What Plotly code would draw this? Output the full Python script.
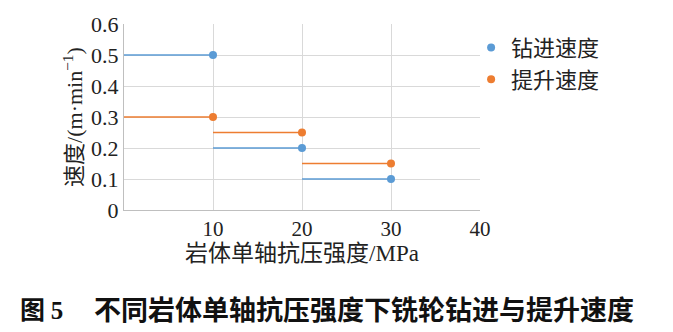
import plotly.graph_objects as go

strength = [10, 20, 30]
seg_start = [0, 10, 20]
drill_speed = [0.5, 0.2, 0.1]
lift_speed = [0.3, 0.25, 0.15]
x_ticks = [10, 20, 30, 40]
y_ticks = [0, 0.1, 0.2, 0.3, 0.4, 0.5, 0.6]

BLUE = "#5B9BD5"
ORANGE = "#ED7D31"
FONT = "Liberation Serif, Noto Sans CJK SC, serif"

def segs(starts, ends, vals):
    xs, ys = [], []
    for a, b, v in zip(starts, ends, vals):
        xs += [a, b, None]
        ys += [v, v, None]
    return xs, ys

fig = go.Figure()
for name, vals, col in [("钻进速度", drill_speed, BLUE), ("提升速度", lift_speed, ORANGE)]:
    xs, ys = segs(seg_start, strength, vals)
    fig.add_trace(go.Scatter(x=xs, y=ys, mode="lines", line=dict(color=col, width=1.5),
                             showlegend=False, hoverinfo="skip"))
    fig.add_trace(go.Scatter(x=strength, y=vals, mode="markers", name=name,
                             marker=dict(color=col, size=8)))

fig.update_layout(
    width=673, height=332,
    margin=dict(l=124, r=193, t=24, b=122),
    paper_bgcolor="white", plot_bgcolor="white",
    font=dict(family=FONT, size=22, color="#222"),
    legend=dict(x=0.975, y=0.985, xanchor="left", yanchor="top",
                font=dict(size=22, family="Noto Sans CJK SC"), itemwidth=30,
                tracegroupgap=0, bgcolor="rgba(0,0,0,0)"),
    xaxis=dict(range=[0, 40], tickvals=x_ticks, showgrid=True, gridcolor="#d9d9d9",
               showline=True, linecolor="#bfbfbf", zeroline=False, ticks="",
               tickfont=dict(size=21),
               title=dict(text="岩体单轴抗压强度/MPa", standoff=0,
                          font=dict(size=23, family=FONT))),
    yaxis=dict(range=[0, 0.6], tickvals=y_ticks, ticktext=["0", "0.1", "0.2", "0.3", "0.4", "0.5", "0.6"],
               showgrid=True, gridcolor="#d9d9d9", showline=True, linecolor="#bfbfbf",
               zeroline=False, ticks="", tickfont=dict(size=22),
               title=dict(text="速度/(m·min<sup>−1</sup>)", standoff=2,
                          font=dict(size=22, family=FONT))),
)

def px_x(p):
    return (p - 124) / 356

def px_y(p):
    return (210 - p) / 186

fig.add_annotation(text="<b>图</b> <b><span style='font-family:Liberation Serif'>5</span></b>",
                   xref="paper", yref="paper", x=px_x(18), y=px_y(308), xanchor="left", yanchor="middle",
                   showarrow=False, font=dict(size=25, family="Noto Sans CJK SC", color="#111"))
fig.add_annotation(text="<b>不同岩体单轴抗压强度下铣轮钻进与提升速度</b>",
                   xref="paper", yref="paper", x=px_x(92), y=px_y(308), xanchor="left", yanchor="middle",
                   showarrow=False, font=dict(size=27, family="Noto Sans CJK SC", color="#111"))

fig.write_html("out.html")
